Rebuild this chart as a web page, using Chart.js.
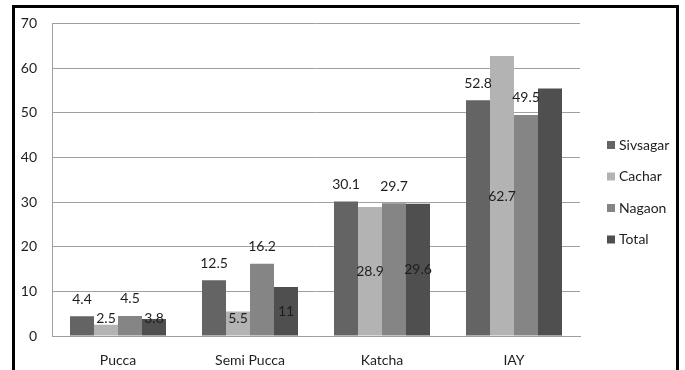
<!DOCTYPE html>
<html>
<head>
<meta charset="utf-8">
<script src="https://cdn.jsdelivr.net/npm/chart.js@4/dist/chart.umd.min.js"></script>
<style>
  html, body { margin: 0; padding: 0; background: #fff; }
  #wrap { position: relative; width: 685px; height: 370px; }
</style>
</head>
<body>
<div id="wrap"><canvas id="c" width="685" height="370"></canvas></div>
<script>
// Housing type shares (%) by district
const categories = ['Pucca', 'Semi Pucca', 'Katcha', 'IAY'];
const sivsagar = [4.4, 12.5, 30.1, 52.8];
const cachar   = [2.5, 5.5, 28.9, 62.7];
const nagaon   = [4.5, 16.2, 29.7, 49.5];
const total    = [3.8, 11, 29.6, 55.4];
// which bars carry a printed value
const totalLabelled = [true, true, true, false];
const yTicks = [0, 10, 20, 30, 40, 50, 60, 70];

const FONT = 'Lato, "Noto Sans", sans-serif';
const TEXT = '#1e1e1e';

// value labels: 'end' sits above the bar, 'center' sits in the bar body
const valueLabels = {
  id: 'valueLabels',
  afterDatasetsDraw(chart) {
    const ctx = chart.ctx;
    const base = chart.scales.y.getPixelForValue(0);
    ctx.save();
    ctx.font = '14px ' + FONT;
    ctx.fillStyle = TEXT;
    ctx.textAlign = 'center';
    ctx.textBaseline = 'middle';
    chart.data.datasets.forEach((ds, di) => {
      const meta = chart.getDatasetMeta(di);
      meta.data.forEach((bar, i) => {
        if (ds.showLabel && !ds.showLabel[i]) return;
        let y;
        if (ds.labelPlace === 'center') {
          y = Math.min((bar.y + base) / 2, base - 18);
        } else {
          y = bar.y - 17;
        }
        ctx.fillText(String(ds.data[i]), bar.x, y);
      });
    });
    ctx.restore();
  }
};

// legend on the right plus the outer frame
const frameAndLegend = {
  id: 'frameAndLegend',
  afterDraw(chart) {
    const ctx = chart.ctx;
    ctx.save();
    ctx.fillStyle = '#000';
    ctx.fillRect(12, 5, 3, 365);
    ctx.fillRect(12, 5, 667, 3);
    ctx.fillRect(676, 5, 3, 365);
    ctx.font = '14px ' + FONT;
    ctx.textBaseline = 'middle';
    ctx.textAlign = 'left';
    const ys = [145, 176.5, 208, 239.5];
    chart.data.datasets.forEach((ds, i) => {
      ctx.fillStyle = ds.backgroundColor;
      ctx.fillRect(607, ys[i] - 4, 8, 8);
      ctx.fillStyle = TEXT;
      ctx.fillText(ds.label, 619, ys[i]);
    });
    ctx.restore();
  }
};

new Chart(document.getElementById('c'), {
  type: 'bar',
  data: {
    labels: categories,
    datasets: [
      { label: 'Sivsagar', data: sivsagar, backgroundColor: '#646464', labelPlace: 'end' },
      { label: 'Cachar',   data: cachar,   backgroundColor: '#b3b3b3', labelPlace: 'center' },
      { label: 'Nagaon',   data: nagaon,   backgroundColor: '#858585', labelPlace: 'end' },
      { label: 'Total',    data: total,    backgroundColor: '#4f4f4f', labelPlace: 'center', showLabel: totalLabelled }
    ]
  },
  options: {
    responsive: false,
    animation: false,
    events: [],
    layout: { padding: { left: 0, top: 23, right: 105, bottom: 0 } },
    datasets: { bar: { categoryPercentage: 96 / 132, barPercentage: 1, borderWidth: 0 } },
    plugins: { legend: { display: false }, tooltip: { enabled: false } },
    scales: {
      x: {
        grid: { display: false, drawTicks: false },
        border: { display: true, color: '#a0a0a0', width: 1 },
        ticks: { font: { size: 14, family: FONT }, color: TEXT, padding: 16 },
        afterFit(s) { s.height = 34; }
      },
      y: {
        min: 0, max: 70,
        afterBuildTicks(s) { s.ticks = yTicks.map(v => ({ value: v })); },
        grid: { color: '#a0a0a0', drawTicks: false, lineWidth: 1 },
        border: { display: true, color: '#a0a0a0', width: 1 },
        ticks: { font: { size: 14, family: FONT }, color: TEXT, padding: 15 },
        afterFit(s) { s.width = 52; }
      }
    }
  },
  plugins: [valueLabels, frameAndLegend]
});
</script>
</body>
</html>
